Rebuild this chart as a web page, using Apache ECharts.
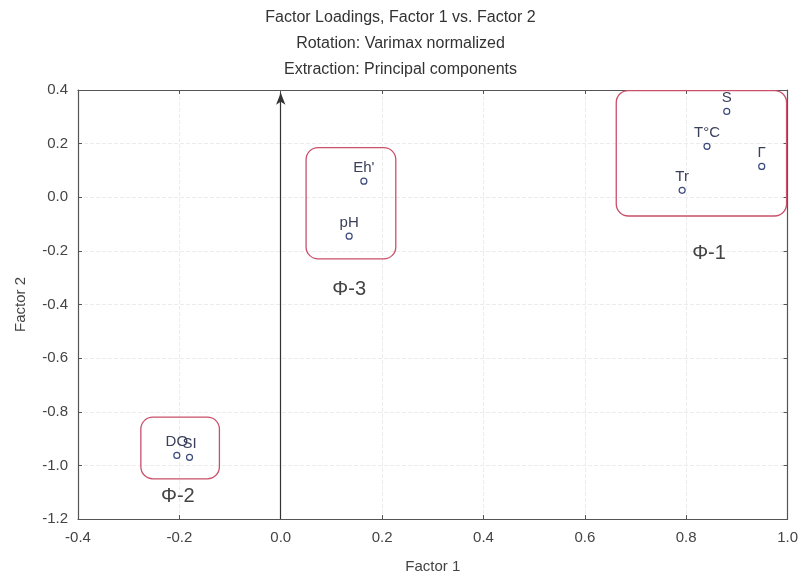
<!DOCTYPE html>
<html><head><meta charset="utf-8">
<script src="https://cdn.jsdelivr.net/npm/echarts@6/dist/echarts.min.js"></script>
<style>html,body{margin:0;padding:0;background:#fff}#c{width:801px;height:579px}</style>
</head><body><div id="c"></div>
<script>
const names = ['S', 'T°C', 'Γ', 'Tr', "Eh'", 'pH', 'DO', 'SI'];
const factor1 = [0.880, 0.841, 0.949, 0.792, 0.164, 0.135, -0.205, -0.180];
const factor2 = [0.320, 0.190, 0.115, 0.026, 0.060, -0.145, -0.963, -0.970];
const groupNames = ['Φ-1', 'Φ-3', 'Φ-2'];
const groupX0 = [0.662, 0.050, -0.276];
const groupX1 = [0.998, 0.227, -0.121];
const groupY0 = [-0.07, -0.23, -1.05];
const groupY1 = [0.398, 0.185, -0.82];
const groupLabelX = [0.845, 0.135, -0.203];
const groupLabelY = [-0.21, -0.345, -1.115];

const font = 'Liberation Sans, Arial, sans-serif';
const pts = names.map((n, i) => ({value: [factor1[i], factor2[i]], name: n}));
const groups = groupNames.map((n, i) => [groupX0[i], groupY0[i], groupX1[i], groupY1[i], groupLabelX[i], groupLabelY[i], i]);

const chart = echarts.init(document.getElementById('c'));
const axisCommon = {
  axisLine: {show: true, onZero: false, lineStyle: {color: '#555', width: 1.2}},
  axisTick: {show: true, inside: true, length: 4, lineStyle: {color: '#555'}},
};
chart.setOption({
  animation: false,
  backgroundColor: '#fff',
  title: {
    text: 'Factor Loadings, Factor 1 vs. Factor 2\nRotation: Varimax normalized\nExtraction: Principal components',
    left: 'center', top: 0,
    textStyle: {fontFamily: font, fontSize: 16, fontWeight: 'normal', color: '#333', lineHeight: 26}
  },
  grid: {left: 78, right: 9, top: 90, bottom: 56},
  xAxis: [{
    type: 'value', min: -0.4, max: 1.0, interval: 0.2, position: 'bottom',
    ...axisCommon,
    axisLabel: {fontFamily: font, fontSize: 15, color: '#444', margin: 11, formatter: v => v.toFixed(1)},
    splitLine: {show: true, lineStyle: {color: '#ececec', type: 'dashed'}},
    name: 'Factor 1', nameLocation: 'middle', nameGap: 40,
    nameTextStyle: {fontFamily: font, fontSize: 15, color: '#444'}
  }, {
    type: 'value', min: -0.4, max: 1.0, interval: 0.2, position: 'top',
    ...axisCommon, axisLabel: {show: false}, splitLine: {show: false}
  }],
  yAxis: [{
    type: 'value', min: -1.2, max: 0.4, interval: 0.2, position: 'left',
    ...axisCommon,
    axisLabel: {fontFamily: font, fontSize: 15, color: '#444', margin: 10, formatter: v => v.toFixed(1)},
    splitLine: {show: true, lineStyle: {color: '#ececec', type: 'dashed'}},
    name: 'Factor 2', nameLocation: 'middle', nameGap: 50,
    nameTextStyle: {fontFamily: font, fontSize: 15, color: '#444'}
  }, {
    type: 'value', min: -1.2, max: 0.4, interval: 0.2, position: 'right',
    ...axisCommon, axisLabel: {show: false}, splitLine: {show: false}
  }],
  series: [{
    type: 'custom',
    data: groups,
    renderItem: function (params, api) {
      const p0 = api.coord([api.value(0), api.value(3)]);
      const p1 = api.coord([api.value(2), api.value(1)]);
      const pl = api.coord([api.value(4), api.value(5)]);
      const idx = api.value(6);
      return {type: 'group', children: [{
        type: 'rect',
        shape: {x: p0[0], y: p0[1], width: p1[0] - p0[0], height: p1[1] - p0[1], r: 12},
        style: {fill: 'none', stroke: '#c9506a', lineWidth: 1.3}
      }, {
        type: 'text',
        style: {x: pl[0], y: pl[1], text: groupNames[idx], fill: '#444', font: '20px ' + font, textAlign: 'center', textVerticalAlign: 'middle'}
      }]};
    },
    z: 3
  }, {
    type: 'scatter',
    data: pts,
    symbol: 'circle', symbolSize: 6,
    itemStyle: {color: '#fff', borderColor: '#3b4a7c', borderWidth: 1.2, opacity: 1},
    label: {show: true, position: 'top', distance: 2, formatter: p => p.name,
      fontFamily: font, fontSize: 15, color: '#3a3f5a'},
    markLine: {
      silent: true, symbol: ['none', 'arrow'], symbolSize: [7, 12],
      lineStyle: {color: '#333', type: 'solid', width: 1.2},
      label: {show: false},
      data: [[{coord: [0, -1.2]}, {coord: [0, 0.39]}]]
    },
    z: 5
  }]
});
</script></body></html>
